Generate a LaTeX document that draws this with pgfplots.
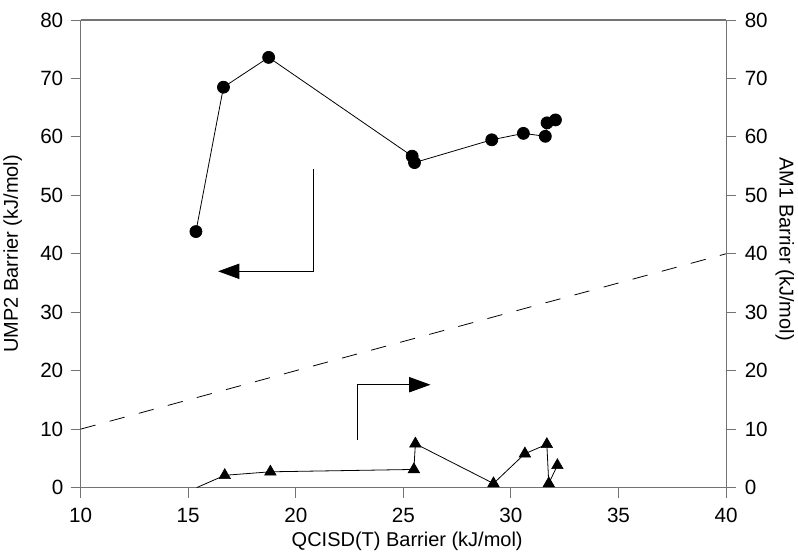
\documentclass[border=0pt]{standalone}
\usepackage{fontspec}
\setmainfont{Liberation Sans}
\usepackage{pgfplots}
\pgfplotsset{compat=1.18}
\usetikzlibrary{arrows.meta,calc}

\begin{document}
\begin{tikzpicture}
\pgfplotsset{
  every axis/.append style={
    scale only axis,
    width=484.5pt, height=351pt,
    xmin=10, xmax=40, ymin=0, ymax=80,
    xtick={10,15,...,40}, ytick={0,10,...,80},
    tick align=outside, major tick length=7.5pt,
    tick style={black!55, line width=0.7pt},
    axis line style={black!55, line width=0.8pt},
    ticklabel style={font=\fontsize{15.5}{18}\selectfont},
    /pgf/number format/assume math mode=true,
    clip=false,
  },
}
% UMP2 (left axis)
\begin{axis}[
    axis y line*=left, axis x line*=bottom,
    xticklabel style={yshift=-4.5pt},
    yticklabel style={xshift=-2pt},
    xlabel={QCISD(T) Barrier (kJ/mol)},
    ylabel={UMP2 Barrier (kJ/mol)},
    every axis x label/.style={at={(rel axis cs:0.506,0)}, yshift=-40pt, anchor=center, font=\fontsize{15}{18}\selectfont},
    every axis y label/.style={at={(rel axis cs:0,0.5)}, xshift=-51pt, rotate=90, anchor=center, font=\fontsize{15}{18}\selectfont},
  ]
\draw[black!55, line width=0.8pt] (rel axis cs:0,1) -- (rel axis cs:1,1);
\addplot[black, line width=0.6pt, mark=*, mark size=4.5pt] coordinates {
(15.36,43.8) (16.64,68.5) (18.74,73.6) (25.41,56.7) (25.52,55.6)
(29.11,59.5) (30.58,60.6) (31.60,60.1) (31.68,62.4) (32.07,62.9)
};
% y = x reference line
\addplot[black, line width=0.6pt, dash pattern=on 11.6pt off 11pt] coordinates {(10,10) (40,40)};
\draw[black, line width=0.6pt, -{Triangle[length=16pt,width=11.5pt]}]
  (axis cs:20.83,54.5) -- (axis cs:20.83,37.0) -- (axis cs:16.39,37.0);
\draw[black, line width=0.6pt, -{Triangle[length=16pt,width=11.5pt]}]
  (axis cs:22.87,8.2) -- (axis cs:22.87,17.6) -- (axis cs:26.26,17.6);
\coordinate (ll) at (rel axis cs:0,0);
\coordinate (ur) at (rel axis cs:1,1);
\coordinate (rm) at (rel axis cs:1,0.51);
\end{axis}
% AM1 (right axis)
\begin{axis}[
    axis y line*=right, axis x line=none,
    yticklabel style={xshift=3pt},
  ]
\addplot[black, line width=0.6pt] coordinates {
(15.40,0.0) (16.70,2.1) (18.82,2.7) (25.49,3.1) (25.56,7.5)
(29.19,0.7) (30.65,5.8) (31.67,7.4) (31.76,0.7) (32.16,3.8)
};
\addplot[only marks, black, mark=triangle*, mark size=5pt] coordinates {
(16.70,2.1) (18.82,2.7) (25.49,3.1) (25.56,7.5)
(29.19,0.7) (30.65,5.8) (31.67,7.4) (31.76,0.7) (32.16,3.8)
};
\end{axis}
\node[rotate=-90, anchor=center, font=\fontsize{15}{18}\selectfont]
  at ([xshift=44pt]rm) {AM1 Barrier (kJ/mol)};
\pgfresetboundingbox
\path (ll) ++(-60.5pt,-48.75pt) rectangle ($(ur)+(54pt,15pt)$);
\end{tikzpicture}
\end{document}
